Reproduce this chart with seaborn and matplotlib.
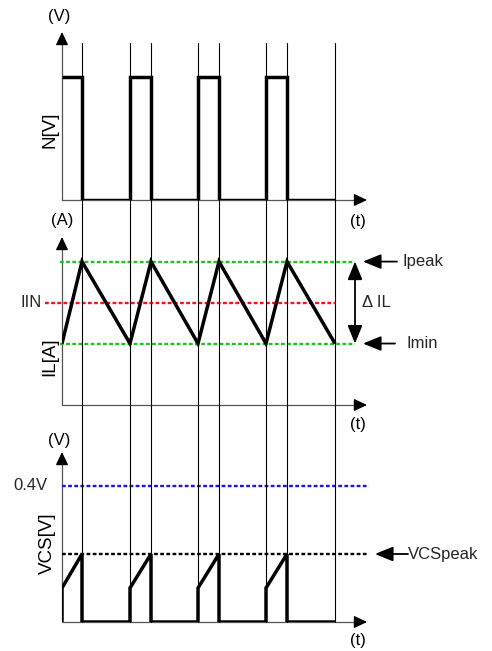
import numpy as np
import pandas as pd
import seaborn as sns
import matplotlib
matplotlib.use("Agg")
import matplotlib.pyplot as plt
from matplotlib.lines import Line2D
from matplotlib.transforms import blended_transform_factory

# ---------------- data ----------------
on_edges = [0, 68, 136, 204]          # switch turns on
off_edges = [20, 89, 157, 225]        # switch turns off
t_end = 273
gate_high = 1.0
gate_low = 0.0
il_min = 1.5
il_peak = 3.5
il_in = 2.5
vcs_start = 0.1
vcs_peak = 0.2
vcs_limit = 0.4

sns.set_theme(style="white")
plt.rcParams["font.family"] = ["Liberation Sans", "DejaVu Sans"]

W, H = 492, 651
fig = plt.figure(figsize=(W / 100, H / 100), dpi=100)
fig.patch.set_facecolor("white")


def px_axes(left, right, top, bottom):
    return fig.add_axes([left / W, 1 - bottom / H, (right - left) / W, (bottom - top) / H])


ax1 = px_axes(62, 367, 32, 200)
ax2 = px_axes(62, 367, 237, 405)
ax3 = px_axes(62, 367, 452, 622)
ax1.set_ylim(0, 1.366)
ax2.set_ylim(0, 4.1)
ax3.set_ylim(0, 0.5)
for ax in (ax1, ax2, ax3):
    ax.set_xlim(0, 305)
    ax.set_facecolor("none")
    for s in ax.spines.values():
        s.set_visible(False)
    ax.set_xticks([])
    ax.set_yticks([])

# ---------------- build waveforms ----------------
gx, gy = [], []
for on, off in zip(on_edges, off_edges):
    gx += [on, on, off, off]
    gy += [gate_low, gate_high, gate_high, gate_low]
gx += [t_end]
gy += [gate_low]
gx, gy = gx[1:], gy[1:]  # starts high at t=0

ix, iy = [], []
for on, off in zip(on_edges, off_edges):
    ix += [on, off]
    iy += [il_min, il_peak]
ix += [t_end]
iy += [il_min]

vx, vy = [], []
for on, off in zip(on_edges, off_edges):
    vx += [on, on, off, off]
    vy += [0, vcs_start, vcs_peak, 0]
vx += [t_end]
vy += [0]

lw_wave = 2.5
common = dict(color="black", lw=lw_wave, sort=False, estimator=None, legend=False)
sns.lineplot(data=pd.DataFrame({"t": gx, "v": gy}), x="t", y="v", ax=ax1, **common)
sns.lineplot(data=pd.DataFrame({"t": ix, "v": iy}), x="t", y="v", ax=ax2, **common)
sns.lineplot(data=pd.DataFrame({"t": vx, "v": vy}), x="t", y="v", ax=ax3, **common)
for ax in (ax1, ax2, ax3):
    for ln in ax.lines:
        ln.set_solid_joinstyle("miter")
        ln.set_solid_capstyle("butt")
        ln.set_zorder(4)
    ax.set_xlabel("")
    ax.set_ylabel("")

# ---------------- reference lines ----------------
dash = (0, (1.6, 1.0))
green = "#22c022"
ax2.hlines([il_peak, il_min], -2, 293, colors=green, lw=1.7, linestyles=dash, clip_on=False, zorder=3)
ax2.hlines([il_in], -17, t_end, colors="#ff1010", lw=1.7, linestyles=dash, clip_on=False, zorder=3)
ax3.hlines([vcs_limit], 0, 307, colors="#1515ee", lw=1.7, linestyles=dash, clip_on=False, zorder=3)
ax3.hlines([vcs_peak], 0, 307, colors="black", lw=1.7, linestyles=dash, clip_on=False, zorder=3)

# vertical guide lines through all panels
btr = blended_transform_factory(ax1.transData, fig.transFigure)
for t in sorted(on_edges[1:] + off_edges + [t_end]):
    fig.add_artist(Line2D([t, t], [1 - 43 / H, 1 - 622 / H], transform=btr,
                          color="black", lw=0.8, zorder=1))

# ---------------- axes arrows ----------------
for ax in (ax1, ax2, ax3):
    ax.plot([0, 0], [0, 0.95], transform=ax.transAxes, color="#555555", lw=0.9, clip_on=False)
    ax.plot([0, 0.97], [0, 0], transform=ax.transAxes, color="#555555", lw=0.9, clip_on=False)
    head_kw = dict(arrowstyle="-|>,head_length=0.8,head_width=0.38", color="black",
                   lw=0.9, mutation_scale=10, shrinkA=0, shrinkB=0)
    ax.annotate("", xy=(0, 1), xytext=(0, 0.93), xycoords="axes fraction", arrowprops=head_kw)
    ax.annotate("", xy=(1, 0), xytext=(0.96, 0), xycoords="axes fraction", arrowprops=head_kw)

# ---------------- texts ----------------
fs = 12


def ftext(x, y, s, **kw):
    fig.text(x / W, 1 - y / H, s, fontsize=kw.pop("fontsize", fs), color="black", **kw)


ftext(59, 17, "(V)", ha="center", va="center")
ftext(62, 220, "(A)", ha="center", va="center")
ftext(59, 440, "(V)", ha="center", va="center")
ftext(358, 221, "(t)", ha="center", va="center")
ftext(358, 424, "(t)", ha="center", va="center")
ftext(358, 641, "(t)", ha="center", va="center")
ftext(50, 130, "N[V]", ha="center", va="center", rotation=90, fontsize=13.5)
ftext(50, 357, "IL[A]", ha="center", va="center", rotation=90, fontsize=13.5)
ftext(47, 543, "VCS[V]", ha="center", va="center", rotation=90, fontsize=13.5)

ax2.text(-20, il_in, "IIN", ha="right", va="center", fontsize=fs)
ax3.text(-15, vcs_limit, "0.4V", ha="right", va="center", fontsize=fs)

side_kw = dict(arrowstyle="-|>,head_length=1.1,head_width=0.45", color="black",
               lw=1.3, mutation_scale=10, shrinkA=0, shrinkB=0)
ax2.annotate("", xy=(301, il_peak), xytext=(335, il_peak), xycoords="data",
             arrowprops=side_kw, annotation_clip=False)
ax2.text(341, il_peak, "Ipeak", ha="left", va="center", fontsize=fs)
ax2.annotate("", xy=(301, il_min), xytext=(333, il_min), xycoords="data",
             arrowprops=side_kw, annotation_clip=False)
ax2.text(345, il_min, "Imin", ha="left", va="center", fontsize=fs)
ax2.annotate("", xy=(293, il_min), xytext=(293, il_peak), xycoords="data",
             arrowprops=dict(side_kw, arrowstyle="<|-|>,head_length=1.1,head_width=0.45"),
             annotation_clip=False)
ax2.text(300, il_in, "Δ IL", ha="left", va="center", fontsize=fs)
ax3.annotate("", xy=(313, vcs_peak), xytext=(346, vcs_peak), xycoords="data",
             arrowprops=side_kw, annotation_clip=False)
ax3.text(346, vcs_peak, "VCSpeak", ha="left", va="center", fontsize=fs)

fig.savefig("out.png", dpi=100, facecolor="white")
